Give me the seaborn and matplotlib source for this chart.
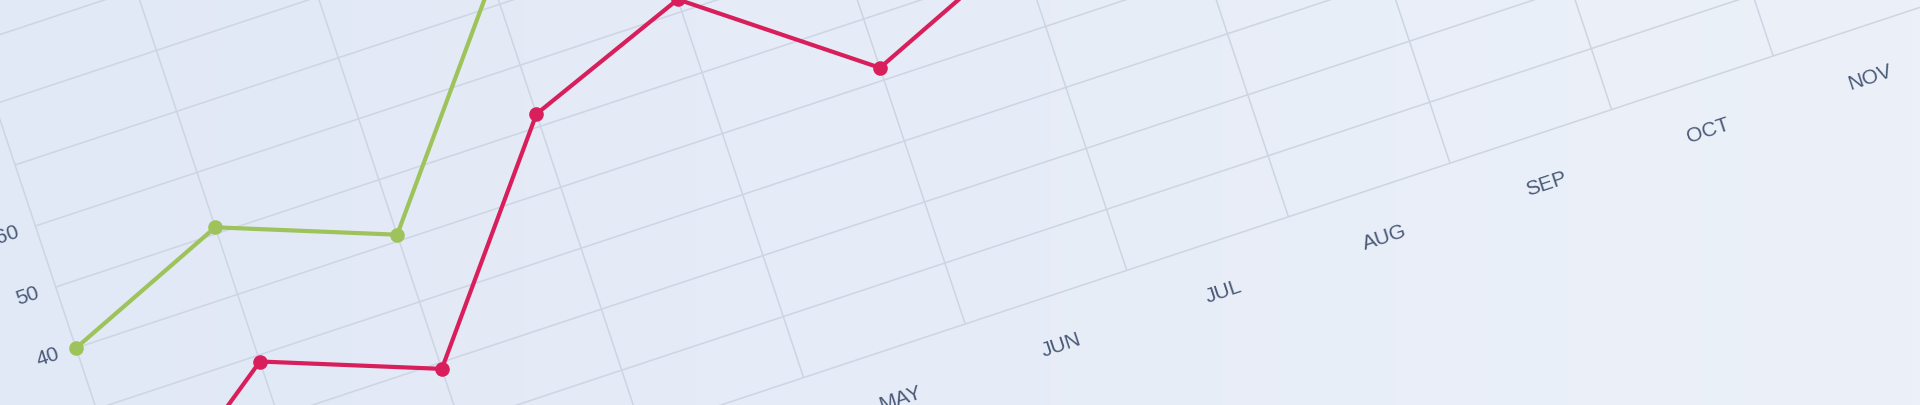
import numpy as np
import pandas as pd
import matplotlib
matplotlib.use("Agg")
import matplotlib.pyplot as plt
from matplotlib.transforms import Affine2D, Bbox
import seaborn as sns

# ---------------- data ----------------
months = ["JAN", "FEB", "MAR", "APR", "MAY", "JUN", "JUL", "AUG", "SEP", "OCT", "NOV", "DEC"]
month_pos = list(range(12))
red_values = [10, 29, 19, 52, 62, 42, 53, 63, 56, 68, 74, 80]
green_values = [40, 51, 41, 74, 84, 64, 75, 85, 78, 90, 94, 98]
y_ticks = [0, 10, 20, 30, 40, 50, 60, 70, 80, 90, 100]

# ---------------- style ----------------
sns.set_style("white")
plt.rcParams["font.family"] = ["Liberation Sans", "DejaVu Sans"]

RED = "#d81e5b"
GREEN = "#9dc35a"
GRID = "#cdd5e3"
TEXT = "#4a5a78"

W, H = 1920, 406
fig = plt.figure(figsize=(W / 100, H / 100), dpi=100)
ax = fig.add_axes([0, 0, 1, 1])

# camera of the photo: the chart plane seen tilted.
# x' = a*month + c*value + e ; y' = b*month + d*value + f   (photo pixels, y down)
camera = Affine2D.from_values(161.6, -53.6, -2.03, -6.1, 157.2, 593.0)
trans = camera + ax.transData

ax.set_autoscale_on(False)
ax.set_xlim(0, W)
ax.set_ylim(H, 0)

# paper background
g = np.linspace(0, 1, 256)
c_l = np.array([225, 232, 246]) / 255
c_r = np.array([236, 241, 249]) / 255
img = c_l[None, :] + (c_r - c_l)[None, :] * g[:, None]
ax.imshow(img[None, :, :], extent=[0, W, H, 0], aspect="auto", zorder=0)

# grid
n_cells = len(months)
ax.vlines(list(range(n_cells + 1)), y_ticks[0], y_ticks[-1], colors=GRID,
          linewidth=1.1, transform=trans, zorder=1)
ax.hlines(y_ticks, 0, n_cells, colors=GRID, linewidth=1.1, transform=trans, zorder=1)

# tick labels
texts = []
for i, name in enumerate(months):
    texts.append(ax.text(i + 0.5, -7.7, name, transform=trans, transform_rotates_text=True,
                         rotation=0, rotation_mode="anchor", ha="center", va="center",
                         fontsize=15, color=TEXT, zorder=2))
for v in y_ticks:
    texts.append(ax.text(-0.17, v + 0.2, str(v), transform=trans, transform_rotates_text=True,
                         rotation=0, rotation_mode="anchor", ha="center", va="center",
                         fontsize=15, color=TEXT, zorder=2))

# series
df = pd.DataFrame({
    "month": month_pos * 2,
    "value": green_values + red_values,
    "series": ["Green"] * len(green_values) + ["Red"] * len(red_values),
})
sns.lineplot(data=df, x="month", y="value", hue="series",
             hue_order=["Green", "Red"], palette={"Green": GREEN, "Red": RED},
             ax=ax, transform=trans, marker="o", markersize=10.5,
             markeredgewidth=0, linewidth=3.0, legend=False, zorder=3)

ax.set_xlim(0, W)
ax.set_ylim(H, 0)
ax.axis("off")

# drop tick labels that fall completely outside the photographed area
fig.canvas.draw()
renderer = fig.canvas.get_renderer()
frame = Bbox.from_bounds(0, 0, W, H)
for t in texts:
    if not t.get_window_extent(renderer).overlaps(frame):
        t.remove()

fig.savefig("out.png", dpi=100)
